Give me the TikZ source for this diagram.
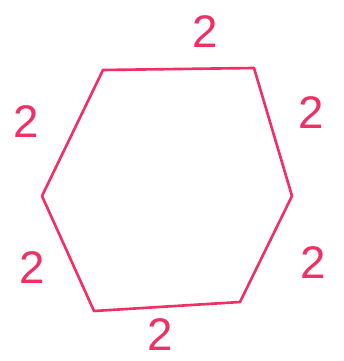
\documentclass[tikz,border=0pt]{standalone}
\usepackage{fontspec}
\setsansfont{Liberation Sans}
\usetikzlibrary{positioning}
\definecolor{penpink}{RGB}{238,48,100}

\begin{document}
\begin{tikzpicture}[x=0.02cm, y=-0.02cm,
    side/.style={draw=penpink, line width=1.5pt, line cap=round, line join=round},
    sidelabel/.style={text=penpink, font=\sffamily\fontsize{26}{30}\selectfont, inner sep=0pt}]
  \useasboundingbox (0,0) rectangle (344,361);
  % corners
  \coordinate (tl) at (103,70);
  \coordinate (tr) at (254,68);
  \coordinate (r)  at (292,196);
  \coordinate (br) at (240,302);
  \coordinate (bl) at (94,311);
  \coordinate (l)  at (42,196);

  % sides
  \draw[side] (tl) -- (tr);
  \draw[side] (tr) -- (r);
  \draw[side] (r) -- (br);
  \draw[side] (br) -- (bl);
  \draw[side] (bl) -- (l);
  \draw[side] (l) -- (tl);

  % lengths
  \node[sidelabel] (top)    at (205,32)  {2};
  \node[sidelabel] (uright) at (311,113) {2};
  \node[sidelabel] (lright) at (313,263) {2};
  \node[sidelabel] (bottom) at (160,335) {2};
  \node[sidelabel] (lleft)  at (32,268)  {2};
  \node[sidelabel] (uleft)  at (26,122)  {2};
\end{tikzpicture}
\end{document}
